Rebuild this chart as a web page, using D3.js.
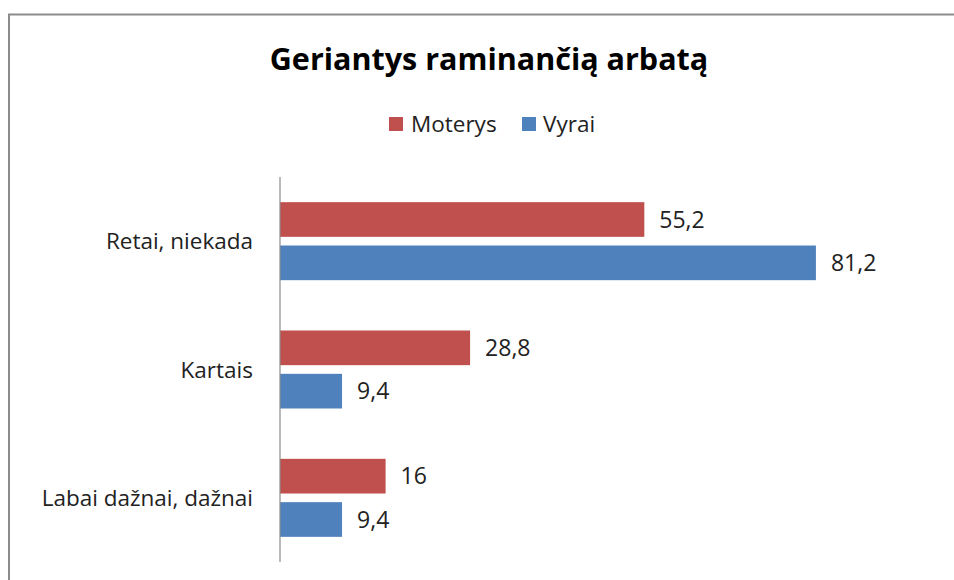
<!DOCTYPE html>
<html><head><meta charset="utf-8">
<script src="https://cdn.jsdelivr.net/npm/d3@7"></script>
<style>body{margin:0;background:#fff}svg{display:block}text{font-family:"Open Sans",sans-serif}</style>
</head><body><svg id="c" width="954" height="580"></svg>
<script>
const categories = ["Retai, niekada", "Kartais", "Labai dažnai, dažnai"];
const seriesNames = ["Moterys", "Vyrai"];
const moterys = [55.2, 28.8, 16];
const vyrai = [81.2, 9.4, 9.4];
const valueLabels = [["55,2","28,8","16"],["81,2","9,4","9,4"]];
const colors = ["#C0504D", "#4F81BD"];

const svg = d3.select("#c");
svg.append("rect").attr("x",9).attr("y",14.5).attr("width",960).attr("height",600)
  .attr("fill","none").attr("stroke","#8c8c8c").attr("stroke-width",2);

svg.append("text").attr("x",489).attr("y",70).attr("text-anchor","middle")
  .attr("font-size",30.5).attr("font-weight","bold").attr("fill","#000").text("Geriantys raminančią arbatą");

// legend
const leg = [{x:389,tx:411},{x:522,tx:543}];
seriesNames.forEach((n,i)=>{
  svg.append("rect").attr("x",leg[i].x).attr("y",117).attr("width",14).attr("height",14).attr("fill",colors[i]);
  svg.append("text").attr("x",leg[i].tx).attr("y",132).attr("font-size",22.5).attr("fill","#222").text(n);
});

const x = d3.scaleLinear().domain([0,90]).range([280,874]);
const y = d3.scaleBand().domain(categories).range([177,562]);
const inner = d3.scaleBand().domain(seriesNames).range([-39,39]).paddingInner(0.2);

const series = [moterys, vyrai];
series.forEach((vals,si)=>{
  svg.selectAll(null).data(vals).enter().append("rect")
    .attr("x",x(0)).attr("y",(d,i)=>y(categories[i])+y.bandwidth()/2+inner(seriesNames[si]))
    .attr("width",d=>x(d)-x(0)).attr("height",inner.bandwidth()).attr("fill",colors[si]);
  svg.selectAll(null).data(vals).enter().append("text")
    .attr("x",d=>x(d)+15).attr("y",(d,i)=>y(categories[i])+y.bandwidth()/2+inner(seriesNames[si])+inner.bandwidth()/2+8)
    .attr("font-size",23).attr("fill","#222").text((d,i)=>valueLabels[si][i]);
});

svg.selectAll(null).data(categories).enter().append("text")
  .attr("x",253).attr("y",d=>y(d)+y.bandwidth()/2+8).attr("text-anchor","end")
  .attr("font-size",22.5).attr("fill","#222").text(d=>d);

svg.append("line").attr("x1",280).attr("x2",280).attr("y1",177).attr("y2",562)
  .attr("stroke","#8c8c8c").attr("stroke-width",1.2);
</script></body></html>
